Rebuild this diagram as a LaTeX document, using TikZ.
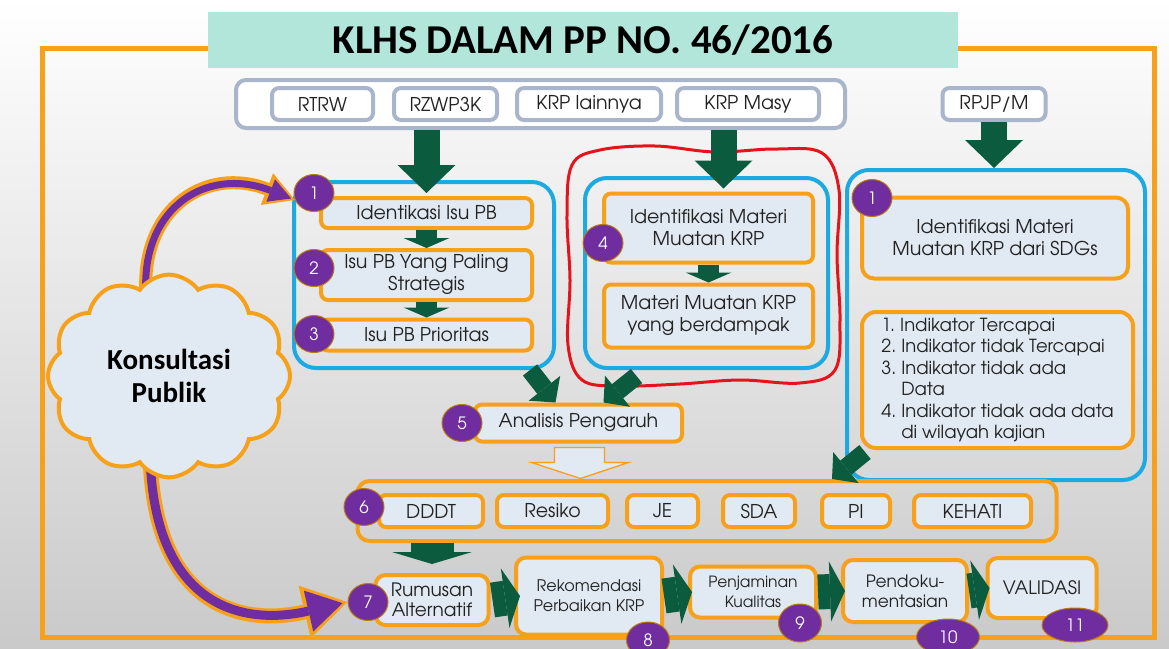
\documentclass[tikz,border=0pt]{standalone}
\usepackage{fontspec}
\setmainfont{texgyreadventor}[Extension=.otf, UprightFont=*-regular, BoldFont=*-bold]
\newfontfamily\headfont{Carlito}
\usepackage{tikz}
\usetikzlibrary{calc,arrows.meta,shapes.geometric,shapes.symbols}

\definecolor{frameorange}{HTML}{F7A11A}
\definecolor{boxfill}{HTML}{E1E9F2}
\definecolor{skyline}{HTML}{1DA9E1}
\definecolor{slateline}{HTML}{A8B5CA}
\definecolor{badgepurple}{HTML}{6F2DA0}
\definecolor{darkgreen}{HTML}{0B5B3F}
\definecolor{titleteal}{HTML}{B2E6DB}
\definecolor{inkred}{HTML}{E5131B}
\definecolor{inktext}{HTML}{222222}

\tikzset{
  obox/.style={draw=frameorange, line width=4pt, rounded corners=7pt, fill=boxfill,
    align=center, text=inktext, inner sep=2pt, font=\fontsize{19}{22}\selectfont},
  listbox/.style={obox, rounded corners=14pt, align=left, font=\fontsize{18}{21.5}\selectfont},
  stepbox/.style={obox, rounded corners=10pt, font=\fontsize{#1}{20}\selectfont},
  stepbox/.default=16,
  sbox/.style={draw=slateline, line width=4pt, rounded corners=7pt, fill=white,
    text=inktext, minimum height=32pt, font=\fontsize{19}{22}\selectfont},
  srcgroup/.style={draw=slateline, line width=4pt, rounded corners=10pt, fill=white},
  skygroup/.style={draw=skyline, line width=4pt, rounded corners=22pt},
  fivegroup/.style={draw=frameorange, line width=4pt, rounded corners=12pt},
  badge/.style={ellipse, fill=badgepurple, draw=frameorange!75!black, line width=1pt,
    text=white, inner sep=0pt, minimum width=40pt, minimum height=37pt,
    font=\fontsize{17}{19}\selectfont},
  fatarrow/.style={darkgreen, line width=26pt, -{Triangle[length=28pt,width=58pt,line width=0pt]}},
  smallarrow/.style={darkgreen, line width=21pt, -{Triangle[length=10pt,width=46pt,line width=0pt]}},
  diagarrow/.style={darkgreen, line width=18pt, -{Triangle[length=18pt,width=40pt,line width=0pt]}},
  downarrow/.style={darkgreen, line width=43pt, -{Triangle[length=12pt,width=80pt,line width=0pt]}},
  rightarrow/.style={darkgreen, line width=35pt, -{Triangle[length=15pt,width=60pt,line width=0pt]}},
  hollowarrow/.style={draw=frameorange, line width=1.3pt, fill=boxfill, line join=miter}
}

\begin{document}
\begin{tikzpicture}[x=1pt, y=-1pt]
    \useasboundingbox (0,0) rectangle (1169,648);

    % 1. background and orange frame
    \shade[top color=white, middle color=gray!12, bottom color=gray!42] (0,0) rectangle (1169,648);
    \draw[frameorange, line width=5pt] (42,48) rectangle (1154,637);

    % 2. title
    \node[fill=titleteal, minimum width=750pt, minimum height=56pt, text=black,
          font=\headfont\bfseries\fontsize{41}{43}\selectfont] (title) at (583,40) {KLHS DALAM PP NO. 46/2016};

    % 3. source documents
    \node[srcgroup, minimum width=609pt, minimum height=48pt] (src) at (540.5,104) {};
    \node[sbox, minimum width=101pt] (rtrw) at (322.5,104) {RTRW};
    \node[sbox, minimum width=103pt] (rzwp) at (445.5,104) {RZWP3K};
    \node[sbox, minimum width=144pt] (lain) at (589,104) {KRP lainnya};
    \node[sbox, minimum width=142pt] (masy) at (748,104) {KRP Masy};
    \node[sbox, minimum width=103pt] (rpjp) at (994,104) {RPJP/M};

    % 4. red hand-drawn loop
    \draw[inkred, line width=3pt] plot[smooth cycle, tension=0.6] coordinates {
        (600,150) (655,146) (715,152) (775,149) (822,153) (839,190) (837,255) (840,320)
        (835,370) (800,383) (740,380) (680,384) (620,386) (582,380) (568,345) (570,280)
        (567,215) (572,165)};

    % 5. the three blue groups
    \node[skygroup, minimum width=260pt, minimum height=186pt] (gleft) at (424,275) {};
    \node[skygroup, minimum width=243pt, minimum height=190pt] (gmid) at (706.5,273) {};
    \node[skygroup, minimum width=298pt, minimum height=310pt] (gright) at (996,325) {};

    \node[obox, minimum width=211pt, minimum height=30pt] (isu1) at (426.5,213) {Identikasi Isu PB};
    \node[obox, minimum width=211pt, minimum height=50pt] (isu2) at (426.5,275) {Isu PB Yang Paling\\Strategis};
    \node[obox, minimum width=211pt, minimum height=31pt] (isu3) at (426.5,335) {Isu PB Prioritas};

    \node[obox, minimum width=209pt, minimum height=69pt] (krpa) at (708.5,228) {Identifikasi Materi\\Muatan KRP};
    \node[obox, minimum width=209pt, minimum height=63pt] (krpb) at (708.5,316) {Materi Muatan KRP\\yang berdampak};

    \node[obox, rounded corners=12pt, minimum width=266pt, minimum height=81pt] (sdg) at (995,238) {Identifikasi Materi\\Muatan KRP dari SDGs};
    \node[listbox, minimum width=271pt, minimum height=136pt] (indik) at (997.5,380)
        {1.\ Indikator Tercapai\\2.\ Indikator tidak Tercapai\\3.\ Indikator tidak ada\\\phantom{3.\ }Data\\4.\ Indikator tidak ada data\\\phantom{4.\ }di wilayah kajian};

    % 6. analisis and the six aspects
    \node[obox, minimum width=207pt, minimum height=37pt] (ana) at (578.5,423) {Analisis Pengaruh};
    \node[fivegroup, minimum width=699pt, minimum height=60pt] (g6) at (707,511) {};
    \node[obox, minimum width=104pt, minimum height=32pt] (dddt) at (431,511) {DDDT};
    \node[obox, minimum width=111pt, minimum height=32pt] (resiko) at (552.5,511) {Resiko};
    \node[obox, minimum width=71pt, minimum height=32pt] (je) at (662.5,511) {JE};
    \node[obox, minimum width=72pt, minimum height=32pt] (sda) at (759,511) {SDA};
    \node[obox, minimum width=68pt, minimum height=32pt] (pi) at (856,511) {PI};
    \node[obox, minimum width=117pt, minimum height=32pt] (kehati) at (972.5,511) {KEHATI};

    % 7. bottom chain
    \node[stepbox=18.5, minimum width=113pt, minimum height=50pt] (rumus) at (432,600) {Rumusan\\Alternatif};
    \node[stepbox=16, minimum width=146pt, minimum height=77pt] (rekom) at (589,596) {Rekomendasi\\Perbaikan KRP};
    \node[stepbox=15.5, minimum width=126pt, minimum height=51pt] (jamin) at (753,592) {Penjaminan\\Kualitas};
    \node[stepbox=17, minimum width=124pt, minimum height=62pt] (dokum) at (905,591) {Pendoku-\\mentasian};
    \node[stepbox=18.5, minimum width=109pt, minimum height=60pt] (valid) at (1042,588) {VALIDASI};

    % 8. green arrows
    \draw[fatarrow] (src.south -| isu1.north) -- ([yshift=3pt]isu1.north);
    \draw[fatarrow] ($(src.south -| krpa.north)+(15,0)$) -- ($(krpa.north)+(15,-3)$);
    \draw[fatarrow] (rpjp.south) -- (rpjp.south |- gright.north);
    \draw[smallarrow] (isu1.south) -- (isu2.north);
    \draw[smallarrow] (isu2.south) -- (isu3.north);
    \draw[smallarrow] (krpa.south) -- (krpb.north);
    \draw[diagarrow] ($(gleft.south east)+(-26,0)$) -- ($(ana.north)+(-23,0)$);
    \draw[diagarrow] ($(gmid.south)+(-70,6)$) -- ($(ana.north)+(25,0)$);
    \draw[diagarrow] ($(gright.south west)+(20,-30)$) -- ($(g6.north)+(125,0)$);
    \draw[downarrow] (g6.south -| rumus.north) -- ([yshift=9pt]rumus.north);
    \draw[rightarrow] ([xshift=2pt]rumus.east) -- ([xshift=6pt]rekom.west);
    \draw[rightarrow] (rekom.east) -- ([xshift=4pt]jamin.west);
    \draw[rightarrow] (jamin.east) -- ([xshift=4pt]dokum.west);
    \draw[rightarrow] (dokum.east) -- ([xshift=4pt]valid.west);

    % 9. hollow arrow from analisis down to the aspects
    \draw[hollowarrow] ($(ana.south)+(-24,4)$) -- ($(ana.south)+(-24,19)$) -- ($(ana.south)+(-47,19)$)
        -- ($(ana.south)+(2,35)$) -- ($(ana.south)+(50,19)$) -- ($(ana.south)+(26,19)$)
        -- ($(ana.south)+(26,4)$) -- cycle;

    % 10. badges
    \node[badge] (b1) at (314,193) {1};
    \node[badge] (b2) at (314,268) {2};
    \node[badge] (b3) at (314,334) {3};
    \node[badge] (b4) at (603,243) {4};
    \node[badge] (b1r) at (872,198) {1};
    \node[badge] (b5) at (462,423) {5};
    \node[badge] (b6) at (364,507) {6};
    \node[badge] (b7) at (368,602) {7};
    \node[badge, minimum width=43pt, minimum height=36pt] (b8) at (648,640) {8};
    \node[badge, minimum width=43pt, minimum height=38pt] (b9) at (800,623) {9};
    \node[badge, minimum width=63pt, minimum height=36pt] (b10) at (948,637) {10};
    \node[badge, minimum width=66pt, minimum height=34pt] (b11) at (1075,625) {11};

    % 11. konsultasi publik cloud with the two curved arrows
    \coordinate (ktop) at (147,306);
    \coordinate (kbot) at (150,446);
    \draw[frameorange, line width=13pt, -{Triangle[length=30pt,width=34pt,line width=0pt]}]
        (ktop) .. controls (135,210) and (205,165) .. (b1.200);
    \draw[badgepurple, line width=7pt, shorten >=4pt, -{Triangle[length=22pt,width=24pt,line width=0pt]}]
        (ktop) .. controls (135,210) and (205,165) .. (b1.200);
    \draw[frameorange, line width=15pt, -{Triangle[length=44pt,width=54pt,line width=0pt]}]
        (kbot) .. controls (150,600) and (235,628) .. (b7.west);
    \draw[badgepurple, line width=9pt, shorten >=5pt, -{Triangle[length=35pt,width=42pt,line width=0pt]}]
        (kbot) .. controls (150,600) and (235,628) .. (b7.west);
    \node[cloud, cloud puffs=12, cloud puff arc=110, draw=frameorange, line width=4pt, fill=boxfill,
          minimum width=242pt, minimum height=148pt, align=center,
          font=\headfont\bfseries\fontsize{29}{33}\selectfont] (cloud) at (169,376) {Konsultasi\\Publik};

\end{tikzpicture}
\end{document}
